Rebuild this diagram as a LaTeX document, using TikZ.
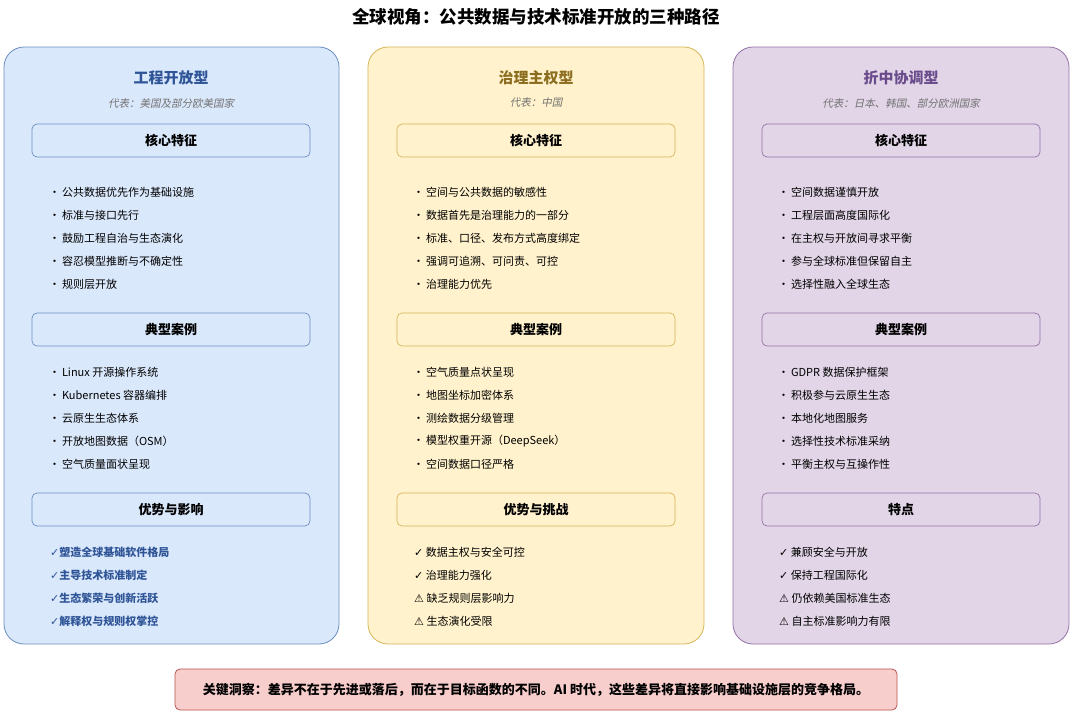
\documentclass[tikz,border=0pt]{standalone}
\usepackage{fontspec}
\setmainfont{Noto Sans CJK SC}
\newfontfamily\cjk{Noto Sans CJK SC}
\newfontfamily\cjkit[FakeSlant=0.2]{Noto Sans CJK SC}
\newfontfamily\sym{DejaVu Sans}
\begin{document}
\begin{tikzpicture}[x=1pt,y=-1pt,
  panel/.style={draw, line width=0.8pt, rounded corners=20pt},
  secbox/.style={draw, line width=0.7pt, rounded corners=5pt, minimum width=278pt, minimum height=33pt, font=\fontsize{13}{15}\selectfont\bfseries, inner sep=0pt},
  ptitle/.style={font=\fontsize{15}{17}\selectfont\bfseries},
  psub/.style={font=\fontsize{10.5}{12}\selectfont\cjkit, text=gray!90!black},
  item/.style={anchor=west, font=\fontsize{11}{13}\selectfont, inner sep=0pt}]
\definecolor{bfill}{HTML}{DAE8FC}\definecolor{bdraw}{HTML}{6C8EBF}
\definecolor{yfill}{HTML}{FFF2CC}\definecolor{ydraw}{HTML}{D6B656}
\definecolor{pfill}{HTML}{E1D5E7}\definecolor{pdraw}{HTML}{9673A6}
\definecolor{rfill}{HTML}{F8CECC}\definecolor{rdraw}{HTML}{B85450}
\definecolor{btxt}{HTML}{2F5597}\definecolor{ytxt}{HTML}{8C6D1F}\definecolor{ptxt}{HTML}{6A4C8C}
\useasboundingbox[fill=white] (0,0) rectangle (1080,721);
\node[font=\fontsize{17.5}{20}\selectfont\bfseries] (title) at (536,17) {全球视角：公共数据与技术标准开放的三种路径};
% panels
\draw[panel, fill=bfill, draw=bdraw] (4,47) rectangle (339,644);
\draw[panel, fill=yfill, draw=ydraw] (368,47) rectangle (704,644);
\draw[panel, fill=pfill, draw=pdraw] (733,47) rectangle (1069,644);
% left
\node[ptitle, text=btxt] (lt) at (171,78) {工程开放型};
\node[psub] (ls) at (171,103) {代表：美国及部分欧美国家};
\node[secbox, draw=bdraw, fill=bfill] (l1) at (171,140.5) {核心特征};
\node[secbox, draw=bdraw, fill=bfill] (l2) at (171,329.5) {典型案例};
\node[secbox, draw=bdraw, fill=bfill] (l3) at (171,509.5) {优势与影响};
\foreach \t [count=\i] in {公共数据优先作为基础设施,标准与接口先行,鼓励工程自治与生态演化,容忍模型推断与不确定性,规则层开放}
  \node[item] (la\i) at (49,169+23*\i) {•\,\t};
\foreach \t [count=\i] in {Linux 开源操作系统,Kubernetes 容器编排,云原生生态体系,开放地图数据（OSM）,空气质量面状呈现}
  \node[item] (lb\i) at (49,349+23*\i) {•\,\t};
\foreach \t [count=\i] in {塑造全球基础软件格局,主导技术标准制定,生态繁荣与创新活跃,解释权与规则权掌控}
  \node[item, text=btxt, font=\fontsize{11}{13}\selectfont\bfseries] (lc\i) at (50,529+23*\i) {{\sym\bfseries ✓}\t};
% middle
\node[ptitle, text=ytxt] (mt) at (536,78) {治理主权型};
\node[psub] (ms) at (536,103) {代表：中国};
\node[secbox, draw=ydraw, fill=yfill] (m1) at (536,140.5) {核心特征};
\node[secbox, draw=ydraw, fill=yfill] (m2) at (536,329.5) {典型案例};
\node[secbox, draw=ydraw, fill=yfill] (m3) at (536,509.5) {优势与挑战};
\foreach \t [count=\i] in {空间与公共数据的敏感性,数据首先是治理能力的一部分,{标准、口径、发布方式高度绑定},{强调可追溯、可问责、可控},治理能力优先}
  \node[item] (ma\i) at (413,169+23*\i) {•\,\t};
\foreach \t [count=\i] in {空气质量点状呈现,地图坐标加密体系,测绘数据分级管理,模型权重开源（DeepSeek）,空间数据口径严格}
  \node[item] (mb\i) at (413,349+23*\i) {•\,\t};
\node[item] (mc1) at (414,552) {{\sym ✓} 数据主权与安全可控};
\node[item] (mc2) at (414,575) {{\sym ✓} 治理能力强化};
\node[item] (mc3) at (414,598) {{\sym ⚠} 缺乏规则层影响力};
\node[item] (mc4) at (414,621) {{\sym ⚠} 生态演化受限};
% right
\node[ptitle, text=ptxt] (rt) at (901,78) {折中协调型};
\node[psub] (rs) at (901,103) {代表：日本、韩国、部分欧洲国家};
\node[secbox, draw=pdraw, fill=pfill] (r1) at (901,140.5) {核心特征};
\node[secbox, draw=pdraw, fill=pfill] (r2) at (901,329.5) {典型案例};
\node[secbox, draw=pdraw, fill=pfill] (r3) at (901,509.5) {特点};
\foreach \t [count=\i] in {空间数据谨慎开放,工程层面高度国际化,在主权与开放间寻求平衡,参与全球标准但保留自主,选择性融入全球生态}
  \node[item] (ra\i) at (778,169+23*\i) {•\,\t};
\foreach \t [count=\i] in {GDPR 数据保护框架,积极参与云原生生态,本地化地图服务,选择性技术标准采纳,平衡主权与互操作性}
  \node[item] (rb\i) at (778,349+23*\i) {•\,\t};
\node[item] (rc1) at (779,552) {{\sym ✓} 兼顾安全与开放};
\node[item] (rc2) at (779,575) {{\sym ✓} 保持工程国际化};
\node[item] (rc3) at (779,598) {{\sym ⚠} 仍依赖美国标准生态};
\node[item] (rc4) at (779,621) {{\sym ⚠} 自主标准影响力有限};
% key insight
\node[draw=rdraw, fill=rfill, line width=0.8pt, rounded corners=5pt, minimum width=722pt, minimum height=41pt, font=\fontsize{13}{15}\selectfont\bfseries] (key) at (536,689.5) {关键洞察：差异不在于先进或落后，而在于目标函数的不同。AI 时代，这些差异将直接影响基础设施层的竞争格局。};
\end{tikzpicture}
\end{document}
